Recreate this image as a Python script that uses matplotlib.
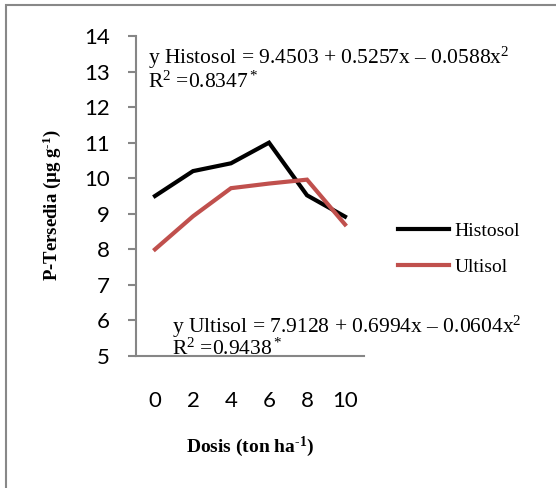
import matplotlib
matplotlib.use("Agg")
import matplotlib.pyplot as plt
from matplotlib.patches import Rectangle

plt.rcParams['mathtext.fontset'] = 'custom'
plt.rcParams['mathtext.rm'] = 'Liberation Serif'
plt.rcParams['mathtext.it'] = 'Liberation Serif:italic'
plt.rcParams['mathtext.bf'] = 'Liberation Serif:bold'

doses = ["0", "2", "4", "6", "8", "10"]
histosol = [9.5, 10.2, 10.42, 11.0, 9.52, 8.92]
ultisol = [8.0, 8.93, 9.72, 9.85, 9.96, 8.7]
yticks = [5, 6, 7, 8, 9, 10, 11, 12, 13, 14]

W, H = 556, 488
fig = plt.figure(figsize=(W / 100, H / 100), dpi=100)
ax = fig.add_axes([136 / W, 1 - 356 / H, 228 / W, 320 / H])

xs = list(range(len(doses)))
ax.plot(xs, histosol, color='black', lw=3, label='Histosol', solid_joinstyle='miter')
ax.plot(xs, ultisol, color='#C0504D', lw=3, label='Ultisol', solid_joinstyle='miter')

ax.set_xlim(-0.5, len(doses) - 0.5)
ax.set_ylim(5, 14)
ax.set_xticks(xs)
ax.set_xticklabels(doses)
ax.set_yticks(yticks)

for s in ['top', 'right']:
    ax.spines[s].set_visible(False)
for s in ['left', 'bottom']:
    ax.spines[s].set_color('#868686')
    ax.spines[s].set_linewidth(1.5)

ax.tick_params(axis='y', direction='out', length=5.8, width=1.5, color='#868686',
               pad=13, labelsize=16)
ax.tick_params(axis='x', length=0, pad=25, labelsize=16)
for lab in ax.get_xticklabels() + ax.get_yticklabels():
    lab.set_family('Lato')

serif = 'Liberation Serif'
eq_fs = 15.5
fig.text(148 / W, 1 - 64 / H, 'y Histosol = 9.4503 + 0.5257x \u2013 0.0588x$^2$',
         family=serif, fontsize=eq_fs, ha='left', va='baseline')
fig.text(148 / W, 1 - 88 / H, 'R$^2$ =0.8347$^*$',
         family=serif, fontsize=eq_fs, ha='left', va='baseline')
fig.text(172 / W, 1 - 333 / H, 'y Ultisol = 7.9128 + 0.6994x \u2013 0.0604x$^2$',
         family=serif, fontsize=eq_fs, ha='left', va='baseline')
fig.text(172 / W, 1 - 355 / H, 'R$^2$ =0.9438$^*$',
         family=serif, fontsize=eq_fs, ha='left', va='baseline')

fig.text(52 / W, 1 - 205 / H, 'P-Tersedia (µg g$^{\\mathbf{\u2010}\\mathbf{1}}$)', family=serif,
         fontsize=13.5, fontweight='bold', rotation=90, ha='center', va='center')
fig.text(250 / W, 1 - 447 / H, 'Dosis (ton ha$^{\\mathbf{\u2010}\\mathbf{1}}$)', family=serif,
         fontsize=14, fontweight='bold', ha='center', va='center')

leg = fig.legend(loc='center left', bbox_to_anchor=(398 / W, 1 - 249 / H),
                 frameon=False, prop={'family': serif, 'size': 14},
                 handlelength=2.6, handletextpad=0.3, labelspacing=0.95,
                 borderaxespad=0, borderpad=0)

fig.patches.append(Rectangle((6 / W, -0.1), 1.2, 1 - 5 / H + 0.1,
                             transform=fig.transFigure, fill=False,
                             edgecolor='#888888', lw=1.5))

fig.savefig('out.png', dpi=100)
